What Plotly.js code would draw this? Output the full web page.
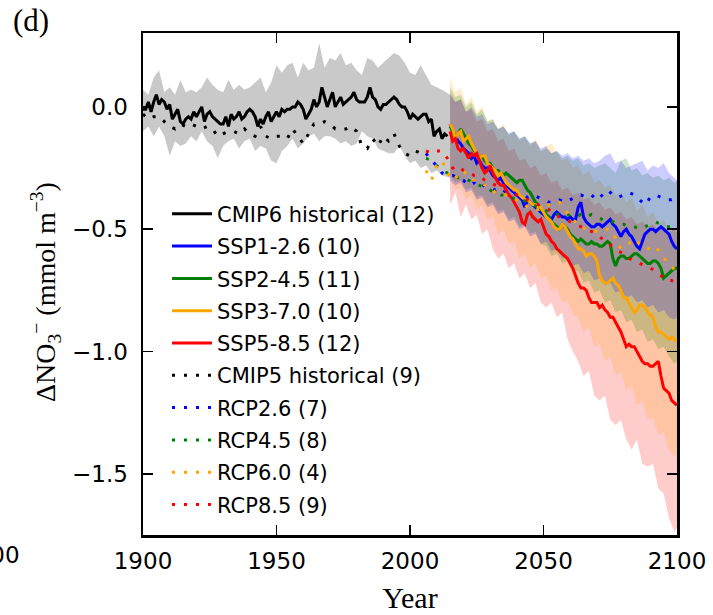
<!DOCTYPE html>
<html>
<head>
<meta charset="utf-8">
<script src="https://cdn.plot.ly/plotly-3.0.1.min.js"></script>
<style>html,body{margin:0;padding:0;background:#fff;}#chart{width:713px;height:615px;}</style>
</head>
<body>
<div id="chart"></div>
<script>
function yrs(a, b, s) { var o = []; for (var v = a; v <= b; v += s) o.push(v); return o; }

// ---------- years ----------
var yearsHist = yrs(1900, 2014, 1);
var yearsSSP = yrs(2015, 2100, 1);
var yearsBandHist = yrs(1900, 2012, 2).concat([2015]);
var yearsBandSSP = yrs(2015, 2099, 2).concat([2100]);
var yearsCMIP5 = yrs(1900, 2004, 2);
var yearsRCP = yrs(2006, 2100, 2);

// ---------- CMIP6 historical ----------
var cmip6Hist = [
 -0.01,-0.01,0.02,-0.02,0.02,0.05,0.01,0.03,0.02,-0.01,
 0.01,-0.05,-0.03,-0.01,-0.06,-0.07,-0.05,-0.04,-0.05,-0.02,
 -0.04,-0.02,0.00,-0.06,-0.03,-0.02,-0.04,-0.05,-0.06,-0.07,
 -0.07,-0.04,-0.08,-0.03,-0.05,-0.04,-0.02,-0.05,-0.04,-0.02,
 -0.01,-0.02,-0.04,-0.08,-0.05,-0.07,-0.04,-0.02,-0.06,-0.04,
 -0.02,-0.04,-0.01,-0.02,-0.01,-0.01,0.00,0.00,0.02,0.01,
 -0.01,-0.05,-0.03,-0.01,0.03,0.00,0.02,0.08,0.04,0.00,
 0.03,0.06,0.00,0.02,0.04,0.01,0.02,0.03,0.04,0.06,
 0.03,0.02,0.02,0.02,0.04,0.08,0.04,0.03,0.00,-0.01,
 0.01,0.01,0.02,0.03,0.04,0.03,0.01,0.00,0.00,-0.02,
 -0.05,-0.03,-0.04,-0.05,-0.04,-0.03,-0.03,-0.06,-0.05,-0.12,
 -0.10,-0.09,-0.13,-0.11,-0.12];
var cmip6HistUpper = [
 0.07,0.05,0.12,0.15,0.06,0.08,0.05,0.11,0.06,0.07,
 0.06,0.08,0.12,0.09,0.07,0.06,0.11,0.07,0.09,0.07,
 0.08,0.10,0.12,0.06,0.10,0.17,0.14,0.17,0.18,0.12,
 0.18,0.15,0.16,0.26,0.16,0.20,0.19,0.22,0.17,0.18,
 0.15,0.13,0.20,0.19,0.16,0.18,0.20,0.22,0.21,0.18,
 0.14,0.13,0.17,0.13,0.09,0.08,0.07,0.05];
var cmip6HistLower = [
 -0.10,-0.08,-0.12,-0.08,-0.12,-0.20,-0.14,-0.16,-0.15,-0.12,
 -0.14,-0.10,-0.14,-0.16,-0.21,-0.16,-0.14,-0.13,-0.17,-0.14,
 -0.13,-0.18,-0.16,-0.17,-0.22,-0.23,-0.18,-0.16,-0.13,-0.17,
 -0.15,-0.12,-0.11,-0.14,-0.12,-0.12,-0.13,-0.15,-0.14,-0.16,
 -0.15,-0.10,-0.12,-0.13,-0.17,-0.18,-0.19,-0.19,-0.16,-0.20,
 -0.23,-0.22,-0.25,-0.24,-0.27,-0.26,-0.28,-0.29];

// ---------- SSP means ----------
var ssp126 = [
 -0.07,-0.10,-0.12,-0.14,-0.15,
 -0.17,-0.18,-0.19,-0.21,-0.20,-0.23,-0.22,-0.24,-0.25,-0.25,
 -0.26,-0.28,-0.29,-0.30,-0.29,-0.31,-0.32,-0.33,-0.34,-0.35,
 -0.36,-0.37,-0.38,-0.41,-0.38,-0.39,-0.40,-0.41,-0.42,-0.43,
 -0.44,-0.45,-0.45,-0.46,-0.44,-0.43,-0.44,-0.45,-0.45,-0.46,
 -0.45,-0.46,-0.46,-0.41,-0.39,-0.45,-0.47,-0.48,-0.49,-0.49,
 -0.48,-0.48,-0.49,-0.48,-0.47,-0.46,-0.48,-0.49,-0.51,-0.53,
 -0.51,-0.50,-0.52,-0.53,-0.55,-0.57,-0.58,-0.55,-0.52,-0.51,
 -0.50,-0.50,-0.51,-0.50,-0.49,-0.50,-0.51,-0.52,-0.55,-0.57,-0.58];
var ssp245 = [
 -0.08,-0.10,-0.12,-0.11,-0.09,
 -0.11,-0.13,-0.15,-0.16,-0.18,-0.19,-0.21,-0.20,-0.22,-0.23,
 -0.23,-0.25,-0.26,-0.26,-0.27,-0.28,-0.27,-0.28,-0.29,-0.30,
 -0.31,-0.30,-0.30,-0.32,-0.34,-0.35,-0.37,-0.39,-0.40,-0.42,
 -0.43,-0.44,-0.45,-0.47,-0.48,-0.49,-0.50,-0.48,-0.49,-0.50,
 -0.52,-0.53,-0.54,-0.55,-0.54,-0.55,-0.56,-0.56,-0.55,-0.56,
 -0.56,-0.57,-0.57,-0.56,-0.55,-0.56,-0.62,-0.65,-0.62,-0.61,
 -0.61,-0.62,-0.62,-0.61,-0.60,-0.60,-0.61,-0.62,-0.63,-0.64,
 -0.64,-0.63,-0.63,-0.64,-0.66,-0.70,-0.69,-0.68,-0.67,-0.66,-0.66];
var ssp370 = [
 -0.07,-0.09,-0.13,-0.11,-0.10,
 -0.14,-0.13,-0.12,-0.15,-0.17,-0.19,-0.21,-0.20,-0.20,-0.23,
 -0.24,-0.25,-0.26,-0.28,-0.27,-0.29,-0.31,-0.32,-0.33,-0.34,
 -0.34,-0.36,-0.37,-0.38,-0.38,-0.39,-0.40,-0.40,-0.41,-0.41,
 -0.43,-0.45,-0.46,-0.47,-0.49,-0.50,-0.50,-0.48,-0.49,-0.51,
 -0.53,-0.54,-0.56,-0.58,-0.58,-0.59,-0.61,-0.60,-0.60,-0.61,
 -0.63,-0.69,-0.71,-0.72,-0.72,-0.71,-0.70,-0.72,-0.73,-0.75,
 -0.78,-0.78,-0.80,-0.82,-0.84,-0.83,-0.81,-0.81,-0.82,-0.84,
 -0.85,-0.86,-0.90,-0.92,-0.92,-0.93,-0.94,-0.95,-0.94,-0.95,-0.96];
var ssp585 = [
 -0.10,-0.14,-0.13,-0.17,-0.18,
 -0.17,-0.19,-0.21,-0.19,-0.20,-0.19,-0.22,-0.25,-0.27,-0.26,
 -0.24,-0.27,-0.29,-0.31,-0.32,-0.32,-0.34,-0.36,-0.37,-0.39,
 -0.41,-0.43,-0.47,-0.48,-0.44,-0.43,-0.45,-0.46,-0.47,-0.46,
 -0.49,-0.52,-0.53,-0.55,-0.56,-0.58,-0.59,-0.60,-0.61,-0.62,
 -0.64,-0.66,-0.69,-0.72,-0.74,-0.74,-0.75,-0.78,-0.80,-0.80,
 -0.80,-0.82,-0.81,-0.83,-0.84,-0.86,-0.86,-0.88,-0.90,-0.92,
 -0.95,-0.98,-0.97,-0.98,-0.98,-1.00,-1.02,-1.04,-1.05,-1.05,
 -1.06,-1.06,-1.05,-1.04,-1.10,-1.15,-1.16,-1.17,-1.20,-1.21,-1.22];

// ---------- SSP spreads ----------
var ssp126Upper = [0.05,0.02,0.03,-0.02,0.00,-0.04,-0.03,-0.07,-0.06,-0.09,-0.08,-0.11,-0.10,-0.13,-0.12,-0.15,-0.14,-0.17,-0.16,-0.19,-0.18,-0.20,-0.19,-0.21,-0.20,-0.22,-0.21,-0.23,-0.22,-0.20,-0.19,-0.23,-0.22,-0.25,-0.24,-0.23,-0.22,-0.26,-0.24,-0.25,-0.23,-0.27,-0.29,-0.30];
var ssp126Lower = [-0.30,-0.32,-0.31,-0.35,-0.34,-0.38,-0.37,-0.41,-0.40,-0.44,-0.43,-0.47,-0.46,-0.50,-0.49,-0.53,-0.52,-0.56,-0.55,-0.59,-0.58,-0.62,-0.61,-0.65,-0.64,-0.68,-0.67,-0.71,-0.70,-0.73,-0.72,-0.76,-0.75,-0.78,-0.77,-0.80,-0.79,-0.82,-0.81,-0.84,-0.83,-0.86,-0.87,-0.86];
var ssp245Upper = [0.08,0.04,0.05,0.00,0.02,-0.03,-0.01,-0.06,-0.05,-0.09,-0.08,-0.11,-0.10,-0.13,-0.12,-0.15,-0.14,-0.18,-0.17,-0.19,-0.18,-0.21,-0.20,-0.22,-0.21,-0.24,-0.23,-0.25,-0.24,-0.23,-0.25,-0.27,-0.22,-0.21,-0.26,-0.25,-0.28,-0.27,-0.29,-0.28,-0.30,-0.29,-0.31,-0.30];
var ssp245Lower = [-0.28,-0.31,-0.30,-0.34,-0.33,-0.37,-0.36,-0.40,-0.39,-0.43,-0.42,-0.46,-0.45,-0.49,-0.48,-0.52,-0.51,-0.56,-0.57,-0.61,-0.60,-0.64,-0.63,-0.68,-0.67,-0.72,-0.71,-0.76,-0.75,-0.80,-0.79,-0.84,-0.83,-0.88,-0.87,-0.92,-0.91,-0.96,-0.95,-0.99,-0.98,-1.02,-1.05,-1.04];
var ssp370Upper = [0.12,0.06,0.08,0.01,0.04,-0.02,0.00,-0.06,-0.05,-0.09,-0.07,-0.12,-0.10,-0.14,-0.12,-0.16,-0.13,-0.18,-0.16,-0.15,-0.19,-0.22,-0.21,-0.25,-0.24,-0.28,-0.26,-0.31,-0.30,-0.33,-0.32,-0.36,-0.35,-0.39,-0.37,-0.42,-0.40,-0.45,-0.43,-0.48,-0.46,-0.51,-0.50,-0.52];
var ssp370Lower = [-0.30,-0.34,-0.33,-0.38,-0.36,-0.42,-0.40,-0.46,-0.45,-0.52,-0.50,-0.56,-0.55,-0.62,-0.60,-0.66,-0.64,-0.70,-0.69,-0.75,-0.74,-0.80,-0.79,-0.85,-0.86,-0.92,-0.90,-0.98,-0.97,-1.04,-1.02,-1.10,-1.08,-1.16,-1.14,-1.22,-1.20,-1.28,-1.27,-1.34,-1.33,-1.40,-1.43,-1.42];
var ssp585Upper = [0.06,0.02,0.03,-0.02,-0.01,-0.06,-0.05,-0.10,-0.09,-0.14,-0.13,-0.18,-0.17,-0.22,-0.21,-0.25,-0.24,-0.28,-0.27,-0.31,-0.30,-0.34,-0.33,-0.36,-0.35,-0.38,-0.37,-0.40,-0.39,-0.42,-0.41,-0.44,-0.43,-0.46,-0.45,-0.48,-0.47,-0.49,-0.48,-0.50,-0.49,-0.51,-0.50,-0.51];
var ssp585Lower = [-0.40,-0.35,-0.45,-0.40,-0.46,-0.44,-0.52,-0.50,-0.58,-0.62,-0.60,-0.66,-0.64,-0.70,-0.68,-0.74,-0.72,-0.80,-0.82,-0.80,-0.86,-0.84,-0.95,-1.00,-1.04,-1.10,-1.08,-1.18,-1.20,-1.18,-1.28,-1.30,-1.28,-1.36,-1.40,-1.36,-1.46,-1.47,-1.46,-1.56,-1.58,-1.68,-1.74,-1.72];

// ---------- CMIP5 ----------
var cmip5Hist = [
 -0.03,-0.05,-0.04,-0.04,-0.06,-0.08,-0.09,-0.07,-0.08,-0.07,
 -0.08,-0.09,-0.08,-0.09,-0.12,-0.11,-0.10,-0.10,-0.11,-0.09,
 -0.11,-0.12,-0.08,-0.12,-0.13,-0.12,-0.12,-0.13,-0.09,-0.12,
 -0.15,-0.11,-0.07,-0.07,-0.06,-0.07,-0.09,-0.09,-0.09,-0.08,
 -0.10,-0.16,-0.17,-0.13,-0.16,-0.12,-0.14,-0.11,-0.16,-0.19,
 -0.20,-0.18,-0.19];
var rcp26 = [
 -0.19,-0.22,-0.24,-0.27,-0.28,-0.28,-0.29,-0.30,-0.32,-0.31,
 -0.33,-0.32,-0.33,-0.34,-0.33,-0.35,-0.35,-0.36,-0.36,-0.37,
 -0.36,-0.37,-0.38,-0.39,-0.39,-0.38,-0.39,-0.38,-0.37,-0.36,
 -0.37,-0.36,-0.38,-0.36,-0.34,-0.36,-0.37,-0.36,-0.35,-0.36,
 -0.38,-0.40,-0.37,-0.36,-0.37,-0.38,-0.38,-0.37];
var rcp45 = [
 -0.21,-0.22,-0.24,-0.26,-0.27,-0.28,-0.29,-0.29,-0.30,-0.31,
 -0.32,-0.33,-0.34,-0.35,-0.36,-0.36,-0.37,-0.38,-0.38,-0.39,
 -0.40,-0.41,-0.42,-0.43,-0.44,-0.44,-0.45,-0.44,-0.45,-0.44,
 -0.45,-0.44,-0.45,-0.46,-0.47,-0.47,-0.48,-0.48,-0.49,-0.49,
 -0.50,-0.49,-0.48,-0.47,-0.48,-0.49,-0.49,-0.50];
var rcp60 = [
 -0.26,-0.30,-0.24,-0.22,-0.27,-0.30,-0.28,-0.26,-0.29,-0.30,
 -0.31,-0.32,-0.33,-0.35,-0.36,-0.36,-0.37,-0.38,-0.39,-0.41,
 -0.42,-0.42,-0.41,-0.40,-0.40,-0.39,-0.42,-0.45,-0.47,-0.49,
 -0.50,-0.50,-0.51,-0.51,-0.50,-0.51,-0.57,-0.58,-0.56,-0.54,
 -0.56,-0.58,-0.58,-0.57,-0.60,-0.63,-0.65,-0.68];
var rcp85 = [
 -0.18,-0.19,-0.18,-0.18,-0.21,-0.25,-0.24,-0.26,-0.27,-0.28,
 -0.28,-0.30,-0.31,-0.32,-0.33,-0.34,-0.35,-0.36,-0.37,-0.38,
 -0.39,-0.40,-0.41,-0.42,-0.44,-0.45,-0.46,-0.47,-0.48,-0.49,
 -0.50,-0.51,-0.52,-0.54,-0.56,-0.57,-0.59,-0.60,-0.62,-0.63,
 -0.64,-0.65,-0.66,-0.67,-0.69,-0.71,-0.71,-0.72];

// ---------- labels & colours ----------
var names = ['CMIP6 historical (12)','SSP1-2.6 (10)','SSP2-4.5 (11)','SSP3-7.0 (10)','SSP5-8.5 (12)',
             'CMIP5 historical (9)','RCP2.6 (7)','RCP4.5 (8)','RCP6.0 (4)','RCP8.5 (9)'];
var xTicks = [1900, 1950, 2000, 2050, 2100];
var yTicks = [0, -0.5, -1.0, -1.5];
var yTitle = 'ΔNO<sub>3</sub><sup>−</sup> (mmol m<sup>−3</sup>)';
var xTitle = 'Year';
var panelLabel = '(d)';

var cBlack = '#000000', cBlue = '#0000ff', cGreen = '#008000', cOrange = '#ffa500', cRed = '#ff0000';
var fBlue = 'rgba(0,0,255,0.2)', fGreen = 'rgba(0,128,0,0.2)', fOrange = 'rgba(255,165,0,0.2)', fRed = 'rgba(255,0,0,0.2)', fGrey = 'rgba(0,0,0,0.21)';

function band(x, up, lo, fc) {
  return { x: x.concat(x.slice().reverse()), y: up.concat(lo.slice().reverse()),
    type: 'scatter', mode: 'lines', fill: 'toself', fillcolor: fc,
    line: { width: 0, color: 'rgba(0,0,0,0)' }, showlegend: false, hoverinfo: 'skip' };
}
function solid(x, y, c, n, g) {
  return { x: x, y: y, type: 'scatter', mode: 'lines', name: n, legendgroup: g, line: { color: c, width: 3 } };
}
function dotted(x, y, c, n, g) {
  return { x: x, y: y, type: 'scatter', mode: 'lines', name: n, legendgroup: g, line: { color: c, width: 3, dash: '3px,9px' } };
}

var traces = [
  band(yearsBandHist, cmip6HistUpper, cmip6HistLower, fGrey),
  band(yearsBandSSP, ssp585Upper, ssp585Lower, fRed),
  band(yearsBandSSP, ssp370Upper, ssp370Lower, fOrange),
  band(yearsBandSSP, ssp245Upper, ssp245Lower, fGreen),
  band(yearsBandSSP, ssp126Upper, ssp126Lower, fBlue),
  solid(yearsHist, cmip6Hist, cBlack, names[0], 'g0'),
  solid(yearsSSP, ssp126, cBlue, names[1], 'g1'),
  solid(yearsSSP, ssp245, cGreen, names[2], 'g2'),
  solid(yearsSSP, ssp370, cOrange, names[3], 'g3'),
  solid(yearsSSP, ssp585, cRed, names[4], 'g4'),
  dotted(yearsCMIP5, cmip5Hist, cBlack, names[5], 'g5'),
  dotted(yearsRCP, rcp26, cBlue, names[6], 'g6'),
  dotted(yearsRCP, rcp45, cGreen, names[7], 'g7'),
  dotted(yearsRCP, rcp60, cOrange, names[8], 'g8'),
  dotted(yearsRCP, rcp85, cRed, names[9], 'g9')
];

var sans = 'DejaVu Sans, sans-serif';
var serif = 'Liberation Serif, DejaVu Serif, serif';
var axisCommon = {
  ticks: 'inside', ticklen: 10, tickwidth: 1.5, tickcolor: '#000',
  showline: true, linewidth: 2.5, linecolor: '#000', mirror: 'ticks',
  showgrid: false, zeroline: false,
  tickfont: { family: sans, size: 23, color: '#000' }
};

var layout = {
  width: 713, height: 615,
  margin: { l: 143, r: 36, t: 33, b: 80, pad: 0 },
  paper_bgcolor: '#fff', plot_bgcolor: '#fff',
  showlegend: true,
  legend: { x: 0.045, y: 0.68, xanchor: 'left', yanchor: 'top', bgcolor: 'rgba(0,0,0,0)',
            borderwidth: 0, itemwidth: 40, traceorder: 'grouped', tracegroupgap: 2,
            font: { family: sans, size: 21, color: '#000' } },
  xaxis: Object.assign({}, axisCommon, {
    range: [1900, 2100], tickvals: xTicks, tickformat: 'd', ticklabelstandoff: 4,
    title: { text: xTitle, font: { family: serif, size: 30, color: '#000' }, standoff: 14 }
  }),
  yaxis: Object.assign({}, axisCommon, {
    range: [-1.75, 0.302], tickvals: yTicks, tickformat: '.1f', ticklabelstandoff: 8
  }),
  annotations: [
    { text: yTitle, xref: 'paper', yref: 'paper', x: (45 - 143) / 534, y: (535 - 292) / 502,
      xanchor: 'center', yanchor: 'middle', textangle: -90, showarrow: false,
      font: { family: serif, size: 28, color: '#000' } },
    { text: panelLabel, xref: 'paper', yref: 'paper', x: (11 - 143) / 534, y: (535 - 20) / 502,
      xanchor: 'left', yanchor: 'middle', showarrow: false, font: { family: serif, size: 31, color: '#000' } },
    { text: '2100', xref: 'paper', yref: 'paper', x: (22 - 143) / 534, y: (535 - 555) / 502,
      xanchor: 'right', yanchor: 'middle', showarrow: false, font: { family: sans, size: 23, color: '#000' } }
  ]
};

Plotly.newPlot('chart', traces, layout, { displayModeBar: false, staticPlot: true });
</script>
</body>
</html>
